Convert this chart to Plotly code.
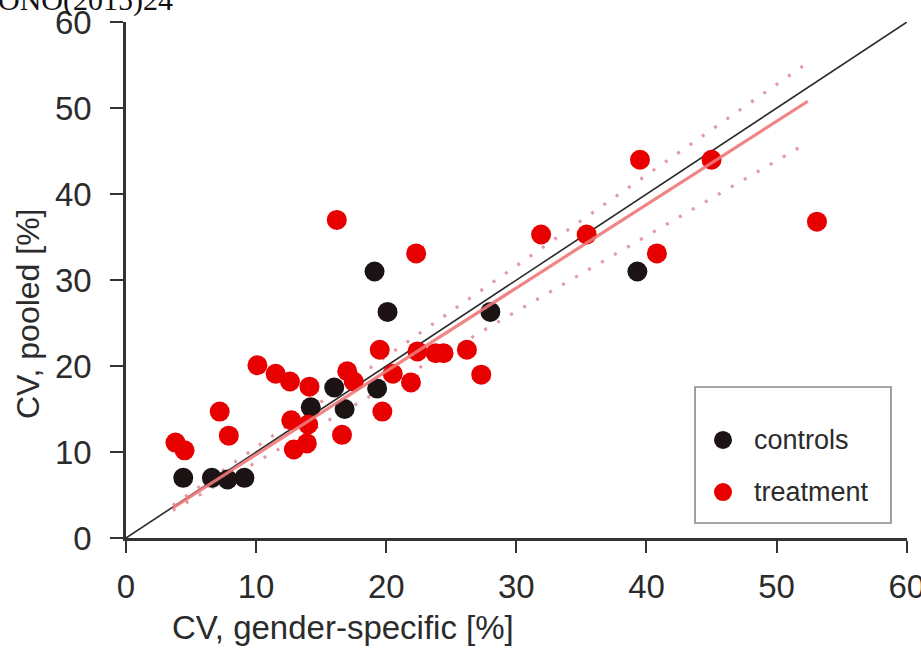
import plotly.graph_objects as go

# CV of the pooled reference interval versus the gender-specific one
controls_x = [4.4, 6.6, 7.8, 9.1, 14.2, 16.0, 16.8, 19.3, 19.1, 20.1, 28.0, 39.3]
controls_y = [7.0, 7.0, 6.8, 7.0, 15.2, 17.5, 15.0, 17.4, 31.0, 26.3, 26.3, 31.0]

treatment_x = [3.8, 4.5, 7.2, 7.9, 10.1, 11.5, 12.6, 14.1, 12.7, 14.0, 12.9, 13.9,
               16.6, 17.0, 17.5, 19.5, 19.7, 20.5, 21.9, 22.4, 23.8, 24.4, 26.2,
               27.3, 16.2, 22.3, 31.9, 35.4, 39.5, 40.8, 45.0, 53.1]
treatment_y = [11.1, 10.2, 14.7, 11.9, 20.1, 19.1, 18.2, 17.6, 13.7, 13.2, 10.3, 11.0,
               12.0, 19.4, 18.2, 21.9, 14.7, 19.1, 18.1, 21.7, 21.5, 21.5, 21.9,
               19.0, 37.0, 33.1, 35.3, 35.3, 44.0, 33.1, 44.0, 36.8]

# line of identity
identity = [0, 60]

# regression fit and its band (end points)
fit_x = [3.6, 52.4]
fit_y = [3.5, 50.8]
band_upper = [3.8, 55.3]
band_lower = [3.2, 46.0]

ticks = [0, 10, 20, 30, 40, 50, 60]

FONT = "Liberation Sans, Arial, sans-serif"
RED = "#e80000"
BLACK = "#1c1414"

fig = go.Figure()

fig.add_trace(go.Scatter(x=identity, y=identity, mode="lines",
                         line=dict(color="#2a2a2a", width=1.6),
                         showlegend=False, hoverinfo="skip"))

for yy in (band_upper, band_lower):
    fig.add_trace(go.Scatter(x=fit_x, y=yy, mode="lines",
                             line=dict(color="#e49aa4", width=3.2, dash="3px,12px"),
                             showlegend=False, hoverinfo="skip"))

fig.add_trace(go.Scatter(x=controls_x, y=controls_y, mode="markers", name="controls",
                         marker=dict(size=20, color=BLACK, line=dict(width=0)),
                         showlegend=False))
fig.add_trace(go.Scatter(x=treatment_x, y=treatment_y, mode="markers", name="treatment",
                         marker=dict(size=20, color=RED, line=dict(width=0)),
                         showlegend=False))

fig.add_trace(go.Scatter(x=fit_x, y=fit_y, mode="lines",
                         line=dict(color="rgba(240,120,120,0.9)", width=3.2),
                         showlegend=False, hoverinfo="skip"))

axis_common = dict(
    tickvals=ticks, ticktext=[str(t) for t in ticks],
    showline=True, linecolor="#333333", linewidth=2.5,
    ticks="outside", tickwidth=2, tickcolor="#333333",
    showgrid=False, zeroline=False, ticklabeloverflow="allow", automargin=False,
    tickfont=dict(family=FONT, size=33, color="#2b2b2b"),
)
fig.update_xaxes(**axis_common, range=[0, 60.02], ticklen=12, ticklabelstandoff=6)
fig.update_yaxes(**axis_common, range=[0, 60.02], ticklen=13, ticklabelstandoff=12)

# legend box drawn by hand
lx0, lx1, ly0, ly1 = 0.7286, 0.9795, 0.029, 0.2926
shapes = [dict(type="rect", xref="paper", yref="paper", x0=lx0, x1=lx1, y0=ly0, y1=ly1,
               line=dict(color="#8a8a8a", width=1.6), fillcolor="white", layer="above")]
entries = [("controls", BLACK, 0.19), ("treatment", RED, 0.0891)]
annotations = []
for label, col, yy in entries:
    shapes.append(dict(type="circle", xref="paper", yref="paper",
                       xsizemode="pixel", ysizemode="pixel",
                       xanchor=0.7644, yanchor=yy, x0=-9, x1=9, y0=-9, y1=9,
                       fillcolor=col, line=dict(width=0), layer="above"))
    annotations.append(dict(text=label, xref="paper", yref="paper", x=0.8015, y=yy,
                            xanchor="left", yanchor="middle", showarrow=False,
                            font=dict(family=FONT, size=27, color="#2b2b2b")))

annotations += [
    dict(text="CV, gender-specific [%]", xref="paper", yref="paper", x=0.278, y=-0.174,
         xanchor="center", yanchor="middle", showarrow=False,
         font=dict(family=FONT, size=33, color="#2b2b2b")),
    dict(text="CV, pooled [%]", xref="paper", yref="paper", x=-0.1255, y=0.436,
         xanchor="center", yanchor="middle", textangle=-90, showarrow=False,
         font=dict(family=FONT, size=32, color="#2b2b2b")),
    dict(text="RONO(2015)24", xref="paper", yref="paper", x=0.0627, y=1,
         xanchor="right", yanchor="bottom", yshift=3, showarrow=False,
         font=dict(family="Liberation Serif, Times New Roman, serif", size=30, color="#111111")),
]

fig.update_layout(
    width=921, height=653,
    margin=dict(l=126, r=14, t=22, b=115, autoexpand=False),
    paper_bgcolor="white", plot_bgcolor="white",
    shapes=shapes, annotations=annotations,
    showlegend=False,
)

fig.write_html("out.html")
